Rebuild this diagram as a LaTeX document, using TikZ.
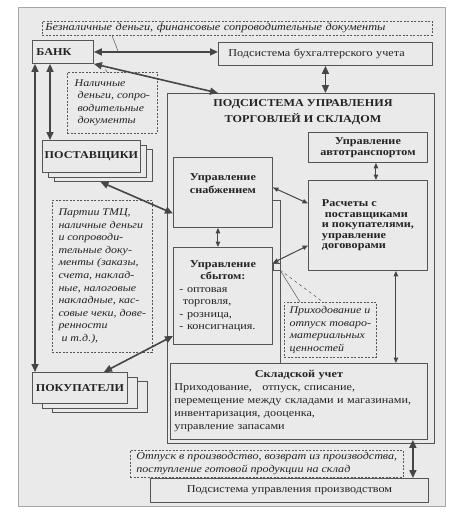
\documentclass[tikz,border=0pt]{standalone}
\usepackage{fontspec}
\setmainfont[FakeStretch=1.16]{Liberation Serif}
\usetikzlibrary{arrows.meta,shadows}

\definecolor{paper}{RGB}{234,234,234}
\definecolor{ink}{RGB}{35,35,35}
\definecolor{rule}{RGB}{85,85,85}
\definecolor{arrowc}{RGB}{70,70,70}

\begin{document}
\begin{tikzpicture}[
  x=1pt,
  y=-1pt,
  box/.style={
    draw=rule,
    fill=paper,
    line width=0.9pt,
    anchor=north west,
    inner sep=2pt,
    align=center,
    text=ink,
    font=\fontsize{10.5}{11}\selectfont
  },
  stack/.style={
    copy shadow={shadow xshift=#1*2, shadow yshift=-9pt, draw=rule, fill=paper, line width=0.9pt},
    copy shadow={shadow xshift=#1, shadow yshift=-4.5pt, draw=rule, fill=paper, line width=0.9pt}
  },
  note/.style={
    draw=rule,
    dash pattern=on 2pt off 1.5pt,
    fill=paper,
    line width=0.6pt,
    anchor=north west,
    inner sep=2pt,
    align=left,
    text=ink,
    font=\fontsize{10.3}{12.6}\selectfont\itshape
  },
  arrow/.style={<->, >={Triangle[length=8pt,width=7pt]}, line width=1.6pt, draw=arrowc},
  smallarrow/.style={<->, >={Triangle[length=5.5pt,width=4.5pt]}, line width=1pt, draw=arrowc},
  callout/.style={draw=rule, line width=0.5pt}
]

\useasboundingbox (0,0) rectangle (451,522);
\fill[white] (0,0) rectangle (451,522);
\draw[fill=paper, draw=gray!70, line width=0.6pt] (18,7) rectangle (445,506);

% Outside partners and neighbouring subsystems.
\node[note, text width=384pt, minimum height=14pt, inner xsep=3pt, font=\fontsize{10.6}{12}\selectfont\itshape] (cashless) at (42,21)
  {Безналичные деньги, финансовые сопроводительные документы};
\node[box, minimum height=23pt, align=left, text width=53pt, inner xsep=4pt, font=\fontsize{10.5}{11}\selectfont\bfseries] (bank) at (32,40) {БАНК};
\node[box, minimum height=23pt, align=left, text width=194pt, inner xsep=10pt] (acc) at (218,42) {Подсистема бухгалтерского учета};
\node[note, minimum width=90pt, minimum height=61pt] (cash) at (67,72)
  {Наличные\\ \ деньги, сопро-\\ \ водительные\\ \ документы};
\node[box, minimum width=98pt, minimum height=32pt, stack=6pt, font=\fontsize{10.5}{11}\selectfont\bfseries] (suppliers) at (42,140) {ПОСТАВЩИКИ};
\node[note, minimum width=100pt, minimum height=152pt] (lots) at (52,200)
  {Партии ТМЦ,\\наличные деньги\\и сопроводи-\\тельные доку-\\менты (заказы,\\счета, наклад-\\ные, налоговые\\накладные, кас-\\совые чеки, дове-\\ренности\\ \ и т.д.),};
\node[box, minimum width=95pt, minimum height=31pt, stack=10pt, font=\fontsize{10.5}{11}\selectfont\bfseries] (buyers) at (32,372) {ПОКУПАТЕЛИ};

% Trade and warehouse subsystem.
\node[box, minimum width=267pt, minimum height=350pt] (trade) at (167,93) {};
\node[font=\fontsize{10.5}{16}\selectfont\bfseries, text=ink, align=center, anchor=north] (tradetitle) at (303,96)
  {ПОДСИСТЕМА УПРАВЛЕНИЯ\\ТОРГОВЛЕЙ И СКЛАДОМ};
\node[box, minimum width=119pt, minimum height=30pt, font=\fontsize{10.5}{11}\selectfont\bfseries] (transport) at (308,132)
  {Управление\\автотранспортом};
\node[box, minimum width=119pt, minimum height=90pt, align=left, font=\fontsize{10.5}{10.5}\selectfont\bfseries] (settle) at (308,180)
  {Расчеты с\\ \ поставщиками\\и покупателями,\\управление\\договорами};
\node[box, minimum width=99pt, minimum height=70pt, font=\fontsize{10.5}{13}\selectfont\bfseries] (supply) at (173,157)
  {Управление\\снабжением\\[5pt]};
\node[box, minimum width=99pt, minimum height=97pt, align=left, text width=87pt, inner xsep=6pt, font=\fontsize{10.5}{12.5}\selectfont] (sales) at (173,247)
  {\makebox[87pt]{\bfseries Управление}\\\makebox[87pt]{\bfseries сбытом:}\\- оптовая\\ \ торговля,\\- розница,\\- консигнация.};
\node[note, minimum width=92pt, minimum height=55pt] (moves) at (284,302)
  {Приходование и\\отпуск товаро-\\материальных\\ценностей};
\node[box, minimum width=257pt, minimum height=76pt, align=left, text width=249pt, inner xsep=4pt, font=\fontsize{10.5}{13}\selectfont] (stock) at (170,363)
  {\makebox[249pt]{\bfseries Складской учет}\\Приходование, \ \ отпуск, списание,\\перемещение между складами и магазинами,\\инвентаризация, дооценка,\\управление запасами};

% Production subsystem.
\node[note, minimum width=273pt, minimum height=27pt, font=\fontsize{10.4}{13}\selectfont\itshape] (prodmoves) at (130,450)
  {Отпуск в производство, возврат из производства,\\поступление готовой продукции на склад};
\node[box, minimum width=278pt, minimum height=24pt] (prod) at (150,478) {Подсистема управления производством};

% Frame behind the supply and sales blocks.
\draw[callout, line width=0.7pt] (supply.east |- 0,200) -- (280,200) -- (280,363);
\draw[callout, line width=0.7pt] (273,263) rectangle (280,270);

% Main flows.
\draw[arrow] (bank.east) -- (bank.east -| acc.west);
\draw[arrow] (bank.south east) -- ([xshift=51pt]trade.north west);
\draw[arrow] (acc.south) -- (acc.south |- trade.north);
\draw[arrow] ([xshift=3pt]bank.south west) -- ([xshift=3pt]bank.south west |- buyers.north);
\draw[arrow] ([xshift=18pt]bank.south west) -- ([xshift=18pt]bank.south west |- suppliers.north);
\draw[arrow] ([xshift=9pt,yshift=-9pt]suppliers.south) -- ([yshift=-21pt]supply.west);
\draw[arrow] ([xshift=24pt]buyers.north) -- ([yshift=-40pt]sales.west);
\draw[arrow] ([xshift=-15pt]stock.south east) -- ([xshift=-15pt]stock.south east |- prod.north);

% Links inside the subsystem.
\draw[smallarrow] ([yshift=5pt]supply.east) -- ([yshift=22pt]settle.west);
\draw[smallarrow] ([yshift=33pt]sales.east) -- ([yshift=-20pt]settle.west);
\draw[smallarrow] ([xshift=-5pt]supply.south) -- ([xshift=-5pt]sales.north);
\draw[smallarrow] ([xshift=8pt]transport.south) -- ([xshift=8pt]settle.north);
\draw[smallarrow] ([xshift=-32pt]settle.south east) -- ([xshift=-32pt]settle.south east |- stock.north);

% Callout lines.
\draw[callout] ([xshift=70pt]cashless.south west) -- (118,51);
\draw[callout, dashed] ([xshift=40pt]cash.north west) -- (103,65);
\draw[callout] (280,270) -- ([xshift=16pt]moves.north west);
\draw[callout, dashed] (280,270) -- ([xshift=39pt]moves.north west);

\end{tikzpicture}
\end{document}
